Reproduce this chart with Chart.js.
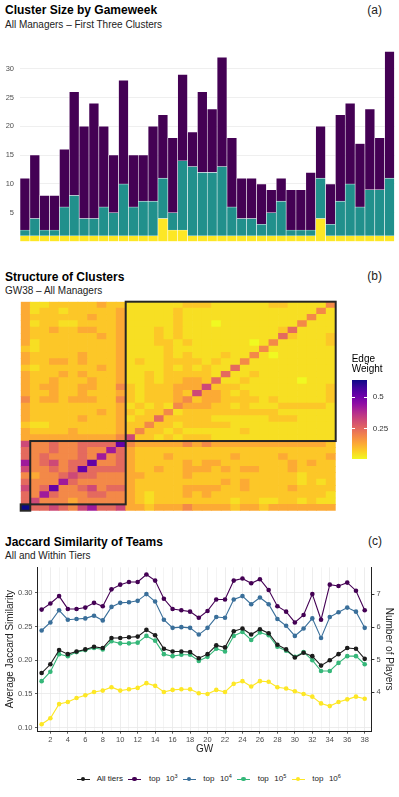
<!DOCTYPE html>
<html>
<head>
<meta charset="utf-8">
<script src="https://cdn.jsdelivr.net/npm/chart.js@4.4.1/dist/chart.umd.min.js"></script>
<style>
    body { margin: 0; background: #fff; font-family: "Liberation Sans", Arial, sans-serif; }
    #page { position: relative; width: 399px; height: 797px; overflow: hidden; background: #fff; }
    .box { position: absolute; }
    .title { position: absolute; left: 5px; font-size: 12px; line-height: 12px; font-weight: bold; color: #000; white-space: nowrap; }
    .sub { position: absolute; left: 5px; font-size: 10px; line-height: 10px; color: #222; white-space: nowrap; }
    .tag { position: absolute; right: 17px; font-size: 12px; line-height: 12px; color: #222; }
    .leg { position: absolute; font-size: 8px; line-height: 8px; color: #222; white-space: nowrap; }
    .leg sup { font-size: 5.5px; vertical-align: 3.5px; line-height: 0; }
    .mark { position: absolute; width: 13px; height: 8px; }
    .mark .ln { position: absolute; left: 0; right: 0; top: 3.5px; height: 1.1px; }
    .mark .pt { position: absolute; left: 4.2px; top: 1.7px; width: 4.6px; height: 4.6px; border-radius: 50%; }
</style>
</head>
<body>
<div id="page">
    <div class="title" style="top:3.8px">Cluster Size by Gameweek</div>
    <div class="sub" style="top:19.8px">All Managers – First Three Clusters</div>
    <div class="tag" style="top:3.5px">(a)</div>
    <div class="box" style="left:0;top:38px;width:399px;height:214px"><canvas id="chart-size"></canvas></div>

    <div class="title" style="top:270.5px">Structure of Clusters</div>
    <div class="sub" style="top:285.5px">GW38 – All Managers</div>
    <div class="tag" style="top:270.2px">(b)</div>
    <div class="box" style="left:0;top:298px;width:399px;height:216px"><canvas id="chart-heat"></canvas></div>
    <div id="heat-legend"></div>

    <div class="title" style="top:535.5px">Jaccard Similarity of Teams</div>
    <div class="sub" style="top:550.8px">All and Within Tiers</div>
    <div class="tag" style="top:535.2px">(c)</div>
    <div class="box" style="left:0;top:560px;width:399px;height:197px"><canvas id="chart-jaccard"></canvas></div>
    <div id="jac-legend"></div>
</div>
<script>
// ---- (a) cluster sizes per gameweek ----
const GW = [1, 2, 3, 4, 5, 6, 7, 8, 9, 10, 11, 12, 13, 14, 15, 16, 17, 18, 19,
    20, 21, 22, 23, 24, 25, 26, 27, 28, 29, 30, 31, 32, 33, 34, 35, 36, 37, 38];
const CLUSTER_1 = [9, 11, 6, 6, 10, 18, 16, 20, 14, 10, 18, 9, 8, 13, 11, 13, 15, 6, 14,
    11, 19, 12, 7, 7, 7, 4, 4, 7, 7, 10, 9, 7, 15, 14, 11, 14, 9, 22];
const CLUSTER_2 = [1, 3, 1, 1, 5, 7, 3, 3, 5, 4, 9, 5, 6, 6, 7, 3, 12, 12, 11,
    11, 12, 5, 3, 3, 2, 4, 6, 1, 1, 1, 7, 2, 6, 9, 5, 8, 8, 10];
const CLUSTER_3 = [1, 1, 1, 1, 1, 1, 1, 1, 1, 1, 1, 1, 1, 1, 4, 2, 2, 1, 1,
    1, 1, 1, 1, 1, 1, 1, 1, 1, 1, 1, 4, 1, 1, 1, 1, 1, 1, 1];
const SIZE_TICKS = [5, 10, 15, 20, 25, 30];

// ---- (b) GW38 edge weights, lower triangle, one digit per cell (level) ----
const CLUSTER_SPANS = [[0, 1], [1, 10], [11, 22]];
const LEVELS = [0.012, 0.05, 0.085, 0.13, 0.19, 0.25, 0.32, 0.42, 0.52, 0.636];
const WEIGHT_ROWS = [
    "9",
    "56",
    "547",
    "6458",
    "54447",
    "434456",
    "6445458",
    "74564558",
    "545444547",
    "5445445447",
    "64454455558",
    "333333333346",
    "3222232222324",
    "21122222223224",
    "322222322231225",
    "3222222232321224",
    "32222222223121214",
    "423323332242122234",
    "3223223222321222326",
    "32332233224212223336",
    "322322232231121223325",
    "3222323222311212222215",
    "21222222323111121212115",
    "322332322231211222212114",
    "3222223222311112121112114",
    "21222222223111121111111114",
    "312222222231112212111111014",
    "3222222232311121211111111115",
    "32232233223111212111111111125",
    "312211222231111121110111111114",
    "3222222322311111211111111111114",
    "31221222223111112111111111111114",
    "311222223221111112221111112211114",
];
const HEAT_TICKS = [0.25, 0.5];

// ---- (c) Jaccard similarity ----
const ALL_TIERS = [0.181, 0.194, 0.215, 0.209, 0.213, 0.216, 0.220, 0.218, 0.233, 0.233, 0.234, 0.235, 0.245,
    0.237, 0.217, 0.213, 0.213, 0.212, 0.203, 0.209, 0.222, 0.219, 0.243, 0.247, 0.238, 0.246,
    0.240, 0.223, 0.216, 0.204, 0.211, 0.206, 0.192, 0.200, 0.209, 0.218, 0.217, 0.202];
const TOP_1E3 = [0.275, 0.284, 0.295, 0.276, 0.276, 0.278, 0.285, 0.280, 0.305, 0.312, 0.316, 0.316, 0.327,
    0.318, 0.291, 0.276, 0.274, 0.272, 0.263, 0.273, 0.290, 0.290, 0.318, 0.321, 0.314, 0.320,
    0.304, 0.280, 0.272, 0.256, 0.267, 0.298, 0.260, 0.312, 0.310, 0.315, 0.303, 0.274];
const TOP_1E4 = [0.244, 0.256, 0.274, 0.260, 0.261, 0.262, 0.266, 0.259, 0.279, 0.285, 0.286, 0.288, 0.298,
    0.287, 0.260, 0.248, 0.249, 0.248, 0.238, 0.248, 0.264, 0.263, 0.290, 0.295, 0.283, 0.293,
    0.283, 0.261, 0.251, 0.236, 0.247, 0.262, 0.233, 0.264, 0.271, 0.278, 0.272, 0.248];
const TOP_1E5 = [0.169, 0.183, 0.209, 0.206, 0.212, 0.215, 0.218, 0.216, 0.228, 0.225, 0.225, 0.226, 0.236,
    0.229, 0.209, 0.206, 0.208, 0.208, 0.199, 0.205, 0.217, 0.213, 0.236, 0.242, 0.230, 0.241,
    0.237, 0.220, 0.214, 0.205, 0.212, 0.200, 0.184, 0.184, 0.196, 0.206, 0.206, 0.194];
const TOP_1E6 = [0.105, 0.114, 0.135, 0.138, 0.144, 0.148, 0.153, 0.155, 0.160, 0.155, 0.157, 0.159, 0.166,
    0.162, 0.153, 0.156, 0.157, 0.157, 0.151, 0.150, 0.156, 0.153, 0.165, 0.169, 0.161, 0.169,
    0.168, 0.160, 0.158, 0.154, 0.150, 0.146, 0.136, 0.132, 0.138, 0.142, 0.146, 0.143];
const TIER_NAMES = ["All tiers", "top 10^3", "top 10^4", "top 10^5", "top 10^6"];
const JAC_TICKS = [0.10, 0.15, 0.20, 0.25, 0.30];
const PLAYER_TICKS = [4, 5, 6, 7];

const FONT = '"Liberation Sans", Arial, sans-serif';
Chart.defaults.font.family = FONT;
Chart.defaults.color = "#4D4D4D";
Chart.defaults.animation = false;

const VIRIDIS3 = ["#440154", "#21908C", "#FDE725"];
const TIER_COLORS = ["#1c1c1c", "#440154", "#3a6f9a", "#35b779", "#fde725"];
const PLASMA = ["#0d0887", "#41049d", "#6a00a8", "#8f0da4", "#b12a90", "#cc4778",
    "#e16462", "#f2844b", "#fca636", "#fcce25", "#f0f921"];
const VMIN = LEVELS[0], VMAX = LEVELS[LEVELS.length - 1];

function hex(h) {
    return [1, 3, 5].map((i) => parseInt(h.slice(i, i + 2), 16));
}

function heatColor(v) {
    let t = 1 - (v - VMIN) / (VMAX - VMIN);
    t = Math.max(0, Math.min(1, t)) * (PLASMA.length - 1);
    const i = Math.min(Math.floor(t), PLASMA.length - 2);
    const f = t - i;
    const a = hex(PLASMA[i]), b = hex(PLASMA[i + 1]);
    const c = a.map((x, k) => Math.round(x + (b[k] - x) * f));
    return `rgb(${c[0]}, ${c[1]}, ${c[2]})`;
}

function fixedTicks(values) {
    return (scale) => { scale.ticks = values.map((v) => ({ value: v })); };
}

const tickFont = { size: 7.5 };

// (a)
new Chart(document.getElementById("chart-size"), {
    type: "bar",
    data: {
        labels: GW,
        datasets: [CLUSTER_3, CLUSTER_2, CLUSTER_1].map((d, i) => ({
            data: d,
            backgroundColor: VIRIDIS3[2 - i],
            borderColor: "rgba(255,255,255,0.6)",
            borderWidth: 0.6,
            barPercentage: 1,
            categoryPercentage: 1,
        })),
    },
    options: {
        responsive: true,
        maintainAspectRatio: false,
        layout: { padding: { top: 5.3, bottom: 1.8, right: 4.5, left: 0 } },
        plugins: { legend: { display: false }, tooltip: { enabled: false } },
        scales: {
            x: { stacked: true, display: false },
            y: {
                stacked: true,
                min: 0,
                max: 33.5,
                afterBuildTicks: fixedTicks(SIZE_TICKS),
                afterFit: (s) => { s.width = 20; },
                ticks: { font: tickFont, padding: 6 },
                grid: { color: "#EBEBEB", lineWidth: 0.8, drawTicks: false },
                border: { display: false },
            },
        },
    },
});

// (b)
const NODES = WEIGHT_ROWS.map((_, i) => i);
function level(r, c) {
    return c <= r ? +WEIGHT_ROWS[r][c] : +WEIGHT_ROWS[c][r];
}

const clusterBoxes = {
    id: "clusterBoxes",
    afterDraw(chart) {
        const { ctx, scales: { x, y } } = chart;
        const cw = (x.right - x.left) / NODES.length;
        ctx.save();
        ctx.strokeStyle = "#262626";
        ctx.lineWidth = 2;
        for (const [start, size] of CLUSTER_SPANS) {
            const x0 = x.left + start * cw;
            const y0 = y.getPixelForValue(start + size);
            const y1 = y.getPixelForValue(start);
            ctx.strokeRect(x0, y0, size * cw, y1 - y0);
        }
        ctx.restore();
    },
};

new Chart(document.getElementById("chart-heat"), {
    type: "bar",
    data: {
        labels: NODES,
        datasets: NODES.map((r) => ({
            data: NODES.map(() => 1),
            backgroundColor: NODES.map((c) => heatColor(LEVELS[level(r, c)])),
            borderWidth: 0,
            barPercentage: 1,
            categoryPercentage: 1,
        })),
    },
    options: {
        responsive: true,
        maintainAspectRatio: false,
        layout: { padding: { left: 20.7, right: 63.3, top: 3.7, bottom: 3.3 } },
        plugins: { legend: { display: false }, tooltip: { enabled: false } },
        scales: {
            x: { stacked: true, display: false },
            y: { stacked: true, display: false, min: 0, max: NODES.length },
        },
    },
    plugins: [clusterBoxes],
});

// heat legend
(function () {
    const el = document.getElementById("heat-legend");
    const stops = PLASMA.slice().reverse().map((c, i) => `${c} ${(i * 100 / (PLASMA.length - 1)).toFixed(1)}%`);
    const top = 380, h = 79, left = 351.7, w = 15;
    let html = `<div style="position:absolute;left:${left}px;top:353.9px;font-size:10px;line-height:10.6px;color:#000">Edge<br>Weight</div>`;
    html += `<div style="position:absolute;left:${left}px;top:${top}px;width:${w}px;height:${h}px;background:linear-gradient(to top, ${stops.join(",")})"></div>`;
    for (const v of HEAT_TICKS) {
        const y = top + (VMAX - v) / (VMAX - VMIN) * h;
        html += `<div style="position:absolute;left:${left}px;top:${y - 0.5}px;width:3px;height:1px;background:#fff"></div>`;
        html += `<div style="position:absolute;left:${left + w - 3}px;top:${y - 0.5}px;width:3px;height:1px;background:#fff"></div>`;
        html += `<div style="position:absolute;left:${left + w + 6}px;top:${y - 4}px;font-size:8px;line-height:8px;color:#333">${v}</div>`;
    }
    el.innerHTML = html;
})();

// (c)
const SERIES = [ALL_TIERS, TOP_1E3, TOP_1E4, TOP_1E5, TOP_1E6];
new Chart(document.getElementById("chart-jaccard"), {
    type: "line",
    data: {
        datasets: SERIES.map((s, i) => ({
            label: TIER_NAMES[i],
            data: GW.map((g, k) => ({ x: g, y: s[k] })),
            borderColor: TIER_COLORS[i],
            backgroundColor: TIER_COLORS[i],
            borderWidth: 1.1,
            pointRadius: 2.3,
            pointBorderWidth: 0,
            tension: 0,
            yAxisID: "y",
        })),
    },
    options: {
        responsive: true,
        maintainAspectRatio: false,
        layout: { padding: { top: 7.3, bottom: 0, left: 0, right: 0 } },
        plugins: { legend: { display: false }, tooltip: { enabled: false } },
        scales: {
            x: {
                type: "linear",
                min: 0.55,
                max: 38.8,
                afterBuildTicks: fixedTicks(GW),
                afterFit: (s) => { s.height = 26; },
                ticks: {
                    font: tickFont,
                    padding: 2,
                    maxRotation: 0,
                    autoSkip: false,
                    callback: (v) => (v % 2 === 0 ? v : ""),
                },
                grid: {
                    color: (c) => (c.tick && c.tick.value % 2 === 0 ? "#E8E8E8" : "#F1F1F1"),
                    tickColor: (c) => (c.tick && c.tick.value % 2 === 0 ? "#333" : "rgba(0,0,0,0)"),
                    tickLength: 2.7,
                    lineWidth: 0.8,
                },
                border: { display: true, color: "#222", width: 1 },
                title: { display: true, text: "GW", color: "#222", font: { size: 10 }, padding: { top: 0, bottom: 2 } },
            },
            y: {
                position: "left",
                min: 0.0951,
                max: 0.3377,
                afterBuildTicks: fixedTicks(JAC_TICKS),
                afterFit: (s) => { s.width = 37.7; },
                ticks: { font: tickFont, padding: 2.5, callback: (v) => v.toFixed(2) },
                grid: { color: "#E8E8E8", lineWidth: 0.8, tickColor: "#333", tickLength: 2.7 },
                border: { display: true, color: "#222", width: 1 },
                title: { display: true, text: "Average Jaccard Similarity", color: "#222", font: { size: 10 }, padding: { top: 4, bottom: 0 } },
            },
            y1: {
                position: "right",
                min: 2.812,
                max: 7.832,
                afterBuildTicks: fixedTicks(PLAYER_TICKS),
                afterFit: (s) => { s.width = 27.3; },
                ticks: { font: tickFont, padding: 2 },
                grid: { drawOnChartArea: false, tickColor: "#333", tickLength: 2.7 },
                border: { display: true, color: "#222", width: 1 },
                title: { display: true, text: "Number of Players", color: "#222", font: { size: 10 }, padding: { top: 4.5, bottom: 0 } },
            },
        },
    },
});

// (c) legend
(function () {
    const el = document.getElementById("jac-legend");
    const markX = [76.7, 128.3, 182.7, 237.3, 291.7];
    const textX = [96.7, 149, 203.3, 257.7, 312.3];
    const y = 775;
    let html = "";
    TIER_NAMES.forEach((name, i) => {
        const m = name.match(/^(.*) 10\^(\d)$/);
        const label = m ? `${m[1]}<span style="margin-left:5.5px">10</span><sup>${m[2]}</sup>` : name;
        html += `<div class="mark" style="left:${markX[i]}px;top:${y}px"><div class="ln" style="background:${TIER_COLORS[i]}"></div><div class="pt" style="background:${TIER_COLORS[i]}"></div></div>`;
        html += `<div class="leg" style="left:${textX[i]}px;top:${y}px">${label}</div>`;
    });
    el.innerHTML = html;
})();
</script>
</body>
</html>
